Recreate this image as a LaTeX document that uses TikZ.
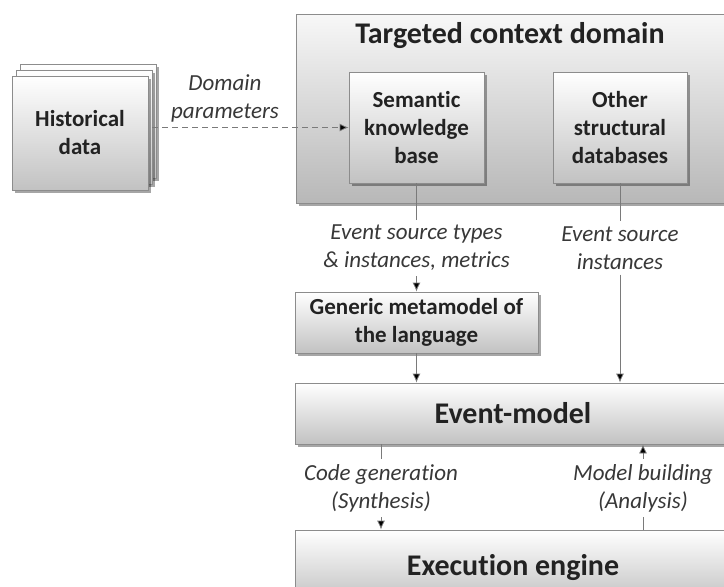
\documentclass[tikz,border=0pt]{standalone}
\usepackage{fontspec}
\setmainfont{Carlito}[RawFeature={-liga;-clig;-calt;-dlig}]
\usetikzlibrary{shadows,arrows.meta}
\definecolor{txt}{HTML}{222222}
\definecolor{edge}{HTML}{8C8C8C}
\definecolor{lin}{HTML}{7A7A7A}
\tikzset{
  gbox/.style={draw=edge, line width=0.8pt, top color=white, bottom color=black!24,
    drop shadow={shadow xshift=2.5pt, shadow yshift=-2.5pt, opacity=0.35, fill=black},
    text=txt, font=\fontsize{23}{28}\selectfont\bfseries, align=center, inner sep=0pt},
  bigtext/.style={font=\fontsize{30}{34}\selectfont\bfseries},
  lbl/.style={text=txt!90, font=\fontsize{23}{28}\selectfont\itshape, align=center, inner sep=5pt},
  conn/.style={draw=lin, line width=0.8pt},
  tipped/.style={conn, -{Latex[length=9pt,width=8pt,fill=black]}}
}
\begin{document}
\begin{tikzpicture}[x=1pt,y=-1pt]
\useasboundingbox (0,0) rectangle (724,587);
\clip (0,0) rectangle (724,587);
\fill[white] (0,0) rectangle (724,587);
% container
\node[gbox, minimum width=444, minimum height=189, top color=black!3, bottom color=black!28] (dom) at (518,108.5) {};
\node[text=txt, bigtext] (title) at (510,36) {Targeted context domain};
\node[gbox, minimum width=135, minimum height=111] (sem) at (416.5,127.5) {Semantic\\knowledge\\base};
\node[gbox, minimum width=134, minimum height=111] (oth) at (620,127.5) {Other\\structural\\databases};
% historical data stack
\node[gbox, minimum width=136, minimum height=114] (hist3) at (88,121) {};
\node[gbox, minimum width=136, minimum height=114] (hist2) at (84,127) {};
\node[gbox, minimum width=136, minimum height=114] (hist) at (80,133) {Historical\\data};
% lower boxes
\node[gbox, minimum width=243, minimum height=61] (gen) at (416.5,322.5) {Generic metamodel of\\the language};
\node[gbox, bigtext, minimum width=436, minimum height=61] (em) at (513,413.5) {Event-model};
\node[gbox, bigtext, minimum width=436, minimum height=72, text depth=0pt] (ee) at (513,566) {\raisebox{3pt}{Execution engine}};
% labels
\node[lbl] (dp) at (225,98) {Domain\\parameters};
\node[lbl] (l1) at (416.5,248) {Event source types\\\& instances, metrics};
\node[lbl] (l2) at (620,248) {Event source\\instances};
\node[lbl] (l3) at (381,488) {Code generation\\(Synthesis)};
\node[lbl] (l4) at (643,488) {Model building\\(Analysis)};
% connectors
\coordinate (hs) at (hist.east |- sem.west);
\draw[tipped, dashed, dash pattern=on 6pt off 4pt] ([xshift=4pt]hs) -- (sem.west);
\draw[tipped] (sem.south) -- (l1) -- (gen.north);
\draw[tipped] (oth.south) -- (l2) -- (l2 |- em.north);
\draw[tipped] (gen.south) -- (gen.south |- em.north);
\draw[tipped] (l3 |- em.south) -- (l3) -- (l3 |- ee.north);
\draw[tipped] (l4 |- ee.north) -- (l4) -- (l4 |- em.south);
\end{tikzpicture}
\end{document}
